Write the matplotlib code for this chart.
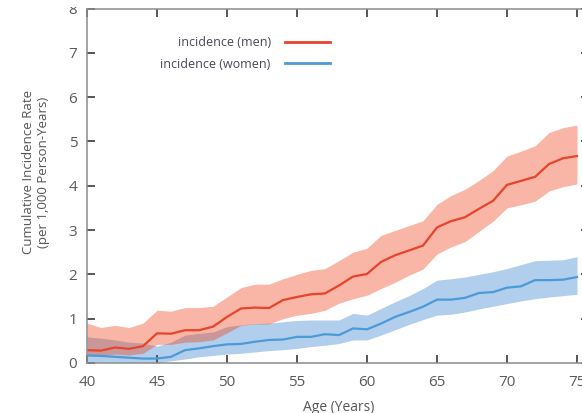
import matplotlib
matplotlib.use("Agg")
import matplotlib.pyplot as plt
from matplotlib.patches import Rectangle

plt.rcParams['font.family'] = ['Open Sans', 'DejaVu Sans']

ages = list(range(40, 76))

men_rate = [0.29, 0.28, 0.35, 0.32, 0.38, 0.67, 0.66, 0.74, 0.74, 0.82,
            1.04, 1.23, 1.25, 1.24, 1.42, 1.49, 1.55, 1.57, 1.75, 1.95,
            2.01, 2.28, 2.43, 2.54, 2.65, 3.06, 3.20, 3.29, 3.48, 3.66,
            4.02, 4.11, 4.20, 4.49, 4.62, 4.67]
men_upper = [0.90, 0.80, 0.85, 0.80, 0.90, 1.19, 1.17, 1.25, 1.25, 1.28,
             1.49, 1.70, 1.78, 1.78, 1.90, 2.00, 2.09, 2.13, 2.31, 2.50,
             2.59, 2.88, 2.99, 3.10, 3.21, 3.58, 3.78, 3.92, 4.12, 4.34,
             4.67, 4.78, 4.90, 5.20, 5.31, 5.37]
men_lower = [0.18, 0.17, 0.20, 0.18, 0.22, 0.42, 0.42, 0.47, 0.48, 0.52,
             0.68, 0.85, 0.88, 0.88, 1.00, 1.08, 1.12, 1.19, 1.35, 1.45,
             1.53, 1.68, 1.82, 1.98, 2.12, 2.46, 2.62, 2.74, 2.97, 3.20,
             3.50, 3.57, 3.65, 3.88, 3.98, 4.04]

women_rate = [0.17, 0.16, 0.14, 0.12, 0.10, 0.10, 0.14, 0.29, 0.33, 0.38,
              0.42, 0.43, 0.48, 0.52, 0.53, 0.59, 0.59, 0.65, 0.63, 0.78,
              0.76, 0.89, 1.04, 1.15, 1.27, 1.43, 1.43, 1.47, 1.58, 1.60,
              1.70, 1.73, 1.87, 1.87, 1.88, 1.94]
women_upper = [0.59, 0.56, 0.52, 0.47, 0.45, 0.38, 0.47, 0.63, 0.67, 0.70,
               0.82, 0.86, 0.89, 0.90, 0.93, 0.96, 0.97, 0.97, 0.97, 1.12,
               1.08, 1.23, 1.38, 1.52, 1.68, 1.87, 1.90, 1.94, 2.00, 2.06,
               2.13, 2.22, 2.31, 2.32, 2.33, 2.40]
women_lower = [0.03, 0.02, 0.02, 0.01, 0.01, 0.00, 0.05, 0.09, 0.14, 0.17,
               0.20, 0.22, 0.25, 0.28, 0.30, 0.33, 0.37, 0.40, 0.44, 0.52,
               0.52, 0.63, 0.75, 0.87, 0.98, 1.08, 1.10, 1.15, 1.22, 1.28,
               1.34, 1.40, 1.45, 1.49, 1.52, 1.55]

x_ticks = [40, 45, 50, 55, 60, 65, 70, 75]
y_ticks = [0, 1, 2, 3, 4, 5, 6, 7, 8]

W, H = 582, 413
fig = plt.figure(figsize=(W / 100, H / 100), dpi=100)
left_px, bottom_px, top_px = 87, 363, 8.5
x_right_val = 75.86
px_per_year = (577 - 87) / 35.0
right_px = 87 + (x_right_val - 40) * px_per_year
ax = fig.add_axes([left_px / W, 1 - bottom_px / H,
                   (right_px - left_px) / W, (bottom_px - top_px) / H])

red_line = '#e8432b'
blue_line = '#4c9ad8'

ax.fill_between(ages, women_lower, women_upper, color=(70/255, 140/255, 210/255),
                alpha=0.42, linewidth=0)
ax.fill_between(ages, men_lower, men_upper, color=(240/255, 70/255, 30/255),
                alpha=0.40, linewidth=0)
ax.plot(ages, men_rate, color=red_line, lw=1.6, label='incidence (men)')
ax.plot(ages, women_rate, color=blue_line, lw=1.6, label='incidence (women)')

ax.set_xlim(40, x_right_val)
ax.set_ylim(0, 8)
ax.set_xticks(x_ticks)
ax.set_yticks(y_ticks)
ax.set_xticklabels([str(v) for v in x_ticks])
ax.set_yticklabels([str(v) for v in y_ticks])

for s in ax.spines.values():
    s.set_color('#8c8c8c')
    s.set_linewidth(1.1)

ax.tick_params(axis='both', direction='in', length=6, width=1.4, color='#555555',
               labelcolor='#5a5a5a', labelsize=11)
ax.tick_params(axis='x', top=True, pad=9)
ax.tick_params(axis='y', right=True, pad=7)

fig.text(36 / W, 1 - 172 / H, 'Cumulative Incidence Rate\n(per 1,000 Person-Years)',
         rotation=90, ha='center', va='center', fontsize=9.5, color='#555555',
         linespacing=1.15)
fig.text(339 / W, 1 - 400 / H, 'Age (Years)', ha='center', va='top',
         fontsize=10, color='#555555')

leg = ax.legend(loc='upper right', bbox_to_anchor=(330 / W, 1 - 36 / H),
                bbox_transform=fig.transFigure, frameon=False, markerfirst=False,
                fontsize=9, handlelength=3.6, handletextpad=1.15,
                labelspacing=0.7, borderpad=0, borderaxespad=0)
for t in leg.get_texts():
    t.set_color('#474757')
for h in leg.get_lines():
    h.set_linewidth(2.0)

# The reference image is cropped just above the top tick label
fig.patches.append(Rectangle((0, 1 - 6.5 / H), 1, 6.5 / H, transform=fig.transFigure,
                             facecolor='white', edgecolor='none', zorder=10))

fig.savefig('out.png', dpi=100)
